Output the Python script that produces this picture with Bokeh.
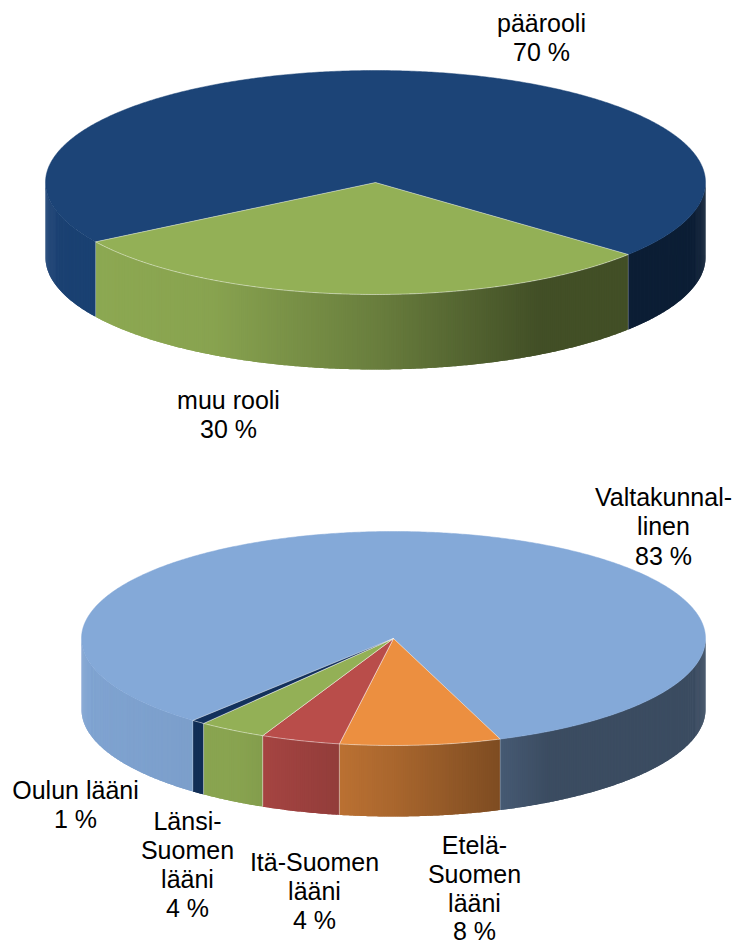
import numpy as np
from bokeh.plotting import figure
from bokeh.models import Range1d
from bokeh.core.properties import value
from bokeh.embed import file_html
from bokeh.resources import INLINE

# --- chart data ---
role_names = ["muu rooli", "päärooli"]
role_values = [30.0, 70.0]
role_colors = ["#93b056", "#1c4477"]

region_names = ["Etelä-Suomen lääni", "Itä-Suomen lääni", "Länsi-Suomen lääni", "Oulun lääni", "Valtakunnallinen"]
region_values = [8.33, 4.11, 3.53, 0.7, 83.33]
region_colors = ["#ec8f40", "#b94d4a", "#93b056", "#13315c", "#84a9d8"]

# label lines: text, centre x, centre y (page pixels)
role_labels = [("päärooli", 541, 22), ("70 %", 541, 51), ("muu rooli", 228, 399), ("30 %", 228, 428)]
region_labels = [
    ("Valtakunnal-", 663, 496), ("linen", 663, 525), ("83 %", 663, 555),
    ("Oulun lääni", 75, 789), ("1 %", 75, 818),
    ("Länsi-", 187, 820), ("Suomen", 187, 849), ("lääni", 187, 878), ("4 %", 187, 907),
    ("Itä-Suomen", 314, 861), ("lääni", 314, 890), ("4 %", 314, 919),
    ("Etelä-", 474, 844), ("Suomen", 474, 873), ("lääni", 474, 902), ("8 %", 474, 930),
]

SHADE_U = [-1.0, -0.5, 0.0, 0.5, 1.0]
SHADE_F = [0.97, 0.93, 0.72, 0.45, 0.45]


def hex_rgb(c):
    return np.array([int(c[i:i + 2], 16) for i in (1, 3, 5)], dtype=float)


def shaded(c, f):
    r, g, b = np.clip(hex_rgb(c) * f, 0, 255).astype(int)
    return f"#{r:02x}{g:02x}{b:02x}"


def draw_pie(p, vals, cols, cx, cy, rx, ry, depth, start):
    edges = start + np.cumsum([0.0] + list(vals)) * 3.6
    # side wall: narrow overlapping strips, painted in order so no seams show
    xs, ys, fc = [], [], []
    for a0, a1, col in zip(edges[:-1], edges[1:], cols):
        for k in (0, 360):
            lo, hi = max(a0 - k, 0.0), min(a1 - k, 180.0)
            if hi <= lo:
                continue
            n = max(1, int((hi - lo) / 0.4))
            ts = np.linspace(lo, hi, n + 1)
            for j in range(n):
                mid = np.radians(ts[j:min(j + 3, n + 1)])
                x = cx + rx * np.cos(mid)
                y = cy + ry * np.sin(mid)
                xs.append(np.r_[x, x[::-1]])
                ys.append(np.r_[y, y[::-1] + depth])
                u = cx + rx * np.cos(np.radians((ts[j] + ts[j + 1]) / 2)) - cx
                fc.append(shaded(col, np.interp(u, [s * rx for s in SHADE_U], SHADE_F)))
    p.patches(xs, ys, fill_color=fc, line_color=None)
    # top face
    big = int(np.argmax(vals))
    for i, (a0, a1, col) in enumerate(zip(edges[:-1], edges[1:], cols)):
        ts = np.radians(np.linspace(a0, a1, max(2, int(a1 - a0) * 2 + 2)))
        px = np.r_[cx, cx + rx * np.cos(ts)]
        py = np.r_[cy, cy + ry * np.sin(ts)]
        if i == big:
            p.patch(px, py, fill_color=col, line_color=col, line_width=0.5)
    for i, (a0, a1, col) in enumerate(zip(edges[:-1], edges[1:], cols)):
        if i == big:
            continue
        ts = np.radians(np.linspace(a0, a1, max(2, int(a1 - a0) * 2 + 2)))
        px = np.r_[cx, cx + rx * np.cos(ts)]
        py = np.r_[cy, cy + ry * np.sin(ts)]
        p.patch(px, py, fill_color=col, line_color="#ffffff", line_alpha=0.55, line_width=0.8)
        # light seams down the wall where the slice ends
        for a in (a0, a1):
            if 0 <= a <= 180:
                x = cx + rx * np.cos(np.radians(a))
                y = cy + ry * np.sin(np.radians(a))
                p.line([x, x], [y, y + depth], line_color="#ffffff", line_alpha=0.3, line_width=0.8)


p = figure(width=733, height=944, x_range=Range1d(0, 733), y_range=Range1d(944, 0),
           output_backend="svg", toolbar_location=None, min_border=0,
           x_axis_type=None, y_axis_type=None, outline_line_color=None,
           background_fill_color="white", border_fill_color="white")
p.grid.visible = False

draw_pie(p, role_values, role_colors, 375, 182, 330, 112, 75, 40)
draw_pie(p, region_values, region_colors, 393, 638, 312, 107, 71, 70)

labels = role_labels + region_labels
p.text(x=[l[1] for l in labels], y=[l[2] for l in labels], text=[l[0] for l in labels],
       text_font=value("Liberation Sans"), text_font_size="25px", text_color="#000000",
       text_align="center", text_baseline="middle")

open("out.html", "w").write(file_html(p, INLINE))
